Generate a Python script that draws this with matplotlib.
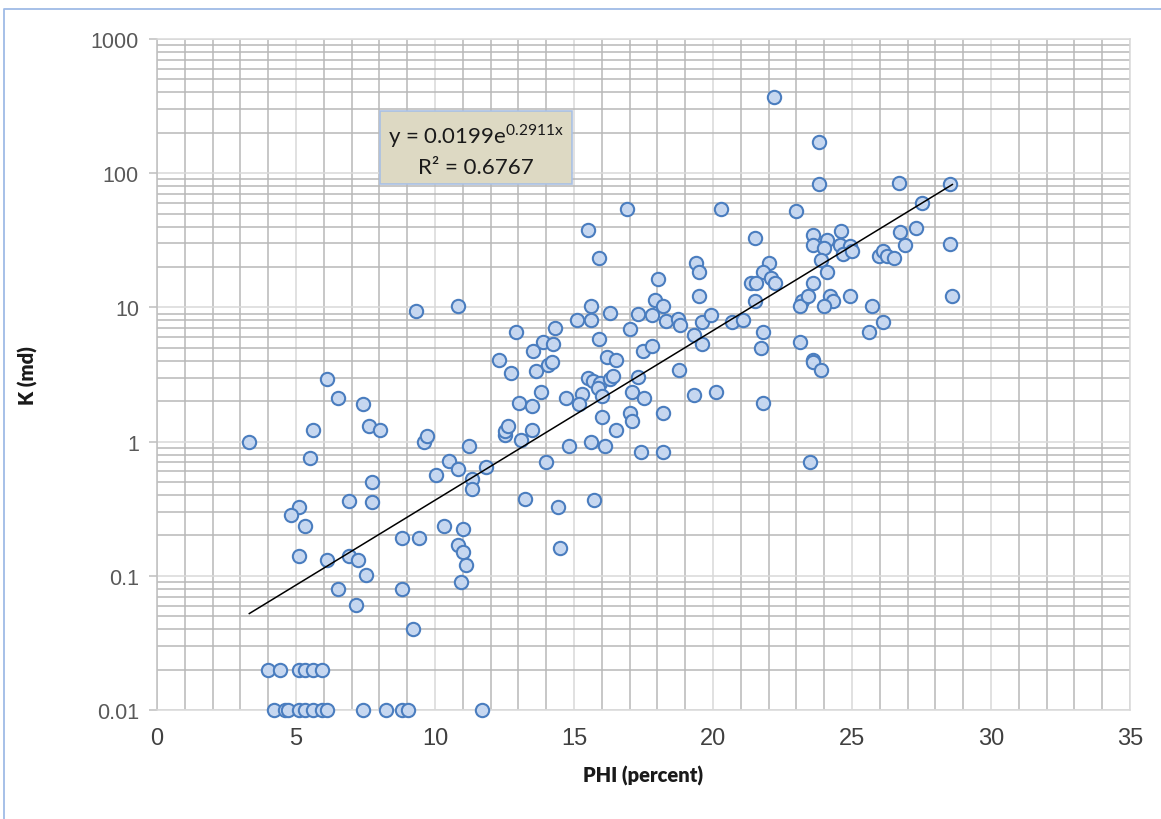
import numpy as np
import matplotlib
matplotlib.use("Agg")
import matplotlib.pyplot as plt
from matplotlib.ticker import MultipleLocator, LogLocator, NullFormatter, FixedLocator
from matplotlib.lines import Line2D

plt.rcParams['font.family'] = ['Liberation Sans', 'DejaVu Sans']

# core plug data: porosity (percent) and permeability (md)
phi = [
    4.21, 4.60, 4.71, 5.11, 5.32, 5.61, 5.94, 6.12, 7.41, 8.24, 8.81, 9.03, 11.69,
    3.99, 4.42, 5.11, 5.32, 5.61, 5.94,
    3.32, 6.13, 6.52, 7.42, 7.61, 8.01, 5.61, 5.52, 9.59, 9.72, 11.22, 10.52,
    10.02, 10.83, 11.82, 11.32, 11.32, 5.12, 4.82, 5.32, 5.12, 6.91, 7.72, 7.72,
    6.13, 6.91, 7.22, 7.52, 6.52, 7.15, 8.82, 9.42, 8.82, 9.22, 10.31, 11.01,
    10.82, 11.01, 11.11, 10.92, 9.30, 10.83,
    12.31, 12.72, 12.91, 13.02, 13.10, 12.52, 12.52, 12.63, 13.49, 13.50, 13.81,
    13.51, 13.62, 13.90, 14.23, 14.08, 14.21, 14.33, 14.71, 14.82, 13.23, 13.99,
    14.42, 14.51, 15.11, 15.61, 15.61, 15.90, 15.52, 15.69, 15.94, 15.88, 16.02,
    15.29, 15.19, 16.02, 15.61, 16.10, 15.71, 16.30, 16.18, 16.50, 16.29, 16.42,
    16.50, 17.01, 17.31, 17.31, 17.10, 17.50, 17.01, 17.10, 17.41, 17.49, 17.82,
    17.91, 17.82, 18.21, 18.30, 18.20, 18.19, 18.79, 18.73, 18.81, 19.50, 19.32,
    19.62, 19.92, 19.62, 19.31, 20.10, 20.70, 21.09, 21.51, 21.81, 21.71, 21.80,
    15.51, 15.90, 16.91, 18.01, 19.40, 19.50, 20.30,
    22.20, 23.81, 23.81, 26.70, 28.51, 27.50, 22.99, 21.51, 22.00, 21.80, 21.37,
    21.54, 22.10, 22.22, 23.60, 23.60, 24.10, 24.00, 24.60, 24.56, 24.93, 24.69,
    25.00, 23.90, 24.10, 23.60, 24.20, 24.32, 24.92, 24.00, 23.21, 23.12, 23.40,
    26.71, 27.31, 26.92, 28.51, 28.61, 25.97, 26.12, 26.26, 26.50, 25.71, 26.12,
    25.61, 23.12, 23.60, 23.60, 23.90, 23.50,
]
perm = [
    0.01, 0.01, 0.01, 0.01, 0.01, 0.01, 0.01, 0.01, 0.01, 0.01, 0.01, 0.01, 0.01,
    0.02, 0.02, 0.02, 0.02, 0.02, 0.02,
    1.0, 2.93, 2.11, 1.92, 1.31, 1.21, 1.22, 0.76, 1.0, 1.11, 0.92, 0.72,
    0.56, 0.62, 0.65, 0.53, 0.44, 0.326, 0.284, 0.234, 0.141, 0.363, 0.497, 0.353,
    0.132, 0.141, 0.132, 0.101, 0.080, 0.061, 0.191, 0.191, 0.080, 0.040, 0.234, 0.222,
    0.171, 0.151, 0.121, 0.090, 9.45, 10.2,
    4.06, 3.24, 6.59, 1.93, 1.02, 1.12, 1.20, 1.31, 1.22, 1.83, 2.35,
    4.71, 3.38, 5.50, 5.37, 3.72, 3.90, 6.99, 2.12, 0.92, 0.376, 0.70,
    0.326, 0.161, 8.1, 10.2, 8.1, 5.8, 3.0, 2.84, 2.72, 2.51, 2.2,
    2.25, 1.91, 1.53, 1.0, 0.92, 0.365, 9.1, 4.25, 4.08, 2.93, 3.06,
    1.21, 6.9, 8.9, 3.05, 2.33, 2.12, 1.63, 1.43, 0.84, 4.71, 5.18,
    11.3, 8.78, 10.2, 7.96, 1.63, 0.84, 3.43, 8.2, 7.39, 12.2, 6.26,
    7.74, 8.78, 5.31, 2.22, 2.33, 7.74, 8.1, 11.2, 6.6, 4.96, 1.93,
    37.5, 23.5, 53.8, 16.3, 21.4, 18.3, 53.8,
    368.0, 171.0, 83.5, 84.5, 83.5, 59.7, 52.6, 32.7, 21.4, 18.3, 15.2,
    15.2, 16.5, 15.2, 34.5, 29.3, 31.9, 27.7, 37.1, 29.3, 28.8, 25.0,
    26.2, 22.7, 18.3, 15.2, 12.2, 11.2, 12.2, 10.2, 11.2, 10.2, 12.2,
    36.6, 38.8, 29.3, 29.5, 12.2, 24.3, 26.5, 24.3, 23.5, 10.2, 7.74,
    6.6, 5.55, 4.08, 3.94, 3.43, 0.71,
]

# exponential trendline coefficients
fit_a = 0.0199
fit_b = 0.2911
fit_r2 = 0.6767

fig = plt.figure(figsize=(11.61, 8.2), dpi=100)
ax = fig.add_axes([157 / 1161, 1 - 711 / 820, 973 / 1161, 671 / 820])

ax.scatter(phi, perm, s=92, facecolor='#c6d7f0', edgecolor='#4a7dbf',
           linewidth=1.5, zorder=3, clip_on=False)

xs = np.linspace(min(phi), max(phi), 100)
ax.plot(xs, fit_a * np.exp(fit_b * xs), color='black', lw=1.1, zorder=4)

ax.set_yscale('log')
ax.set_xlim(0, 35)
ax.set_ylim(0.01, 1000)

ax.xaxis.set_major_locator(MultipleLocator(5))
ax.xaxis.set_minor_locator(MultipleLocator(1))
ax.yaxis.set_major_locator(FixedLocator([0.01, 0.1, 1, 10, 100, 1000]))
ax.yaxis.set_minor_locator(LogLocator(base=10, subs=np.arange(2, 10)))
ax.yaxis.set_minor_formatter(NullFormatter())
ax.set_yticklabels(['0.01', '0.1', '1', '10', '100', '1000'])

ax.grid(which='major', color='#d9d9d9', lw=1.1, zorder=0)
ax.grid(which='minor', color='#b8b8b8', lw=1.1, zorder=0)
ax.set_axisbelow(True)

for side in ['top', 'right', 'bottom', 'left']:
    ax.spines[side].set_color('#d9d9d9')
    ax.spines[side].set_linewidth(1.1)
ax.spines['left'].set_color('#bfbfbf')

ax.tick_params(axis='x', which='both', length=0, pad=12, labelsize=17, labelcolor='#404040')
ax.tick_params(axis='y', which='major', length=6, width=1.1, color='#bfbfbf',
               pad=7, labelsize=15.5, labelcolor='#595959')
ax.tick_params(axis='y', which='minor', length=0)

ax.set_xlabel('PHI (percent)', fontsize=14.5, fontweight='heavy', family='Lato',
              color='#1a1a1a', labelpad=12)
ax.set_ylabel('K (md)', fontsize=14.5, fontweight='heavy', family='Lato',
              color='#1a1a1a', labelpad=38)

plt.rcParams['mathtext.fontset'] = 'custom'
plt.rcParams['mathtext.rm'] = 'Lato'
eq = f'y = {fit_a:.4f}e' + r'$^{\mathregular{' + f'{fit_b:.4f}' + r'x}}$' + f'\nR² = {fit_r2:.4f}'
fig.text(476 / 1161, 1 - 150 / 820, eq, ha='center', va='center', fontsize=16,
         family='Lato', color='#1a1a1a', linespacing=1.45,
         bbox=dict(boxstyle='square,pad=0.35', facecolor='#ddd9c3', edgecolor='#a9c0e4', lw=1.2))

# outer chart frame
fig.add_artist(Line2D([4 / 1161, 4 / 1161, 1.0], [0.0, 1 - 10 / 820, 1 - 10 / 820],
                      transform=fig.transFigure, color='#9fbbe6', lw=1.3))

fig.savefig('out.png', dpi=100)
